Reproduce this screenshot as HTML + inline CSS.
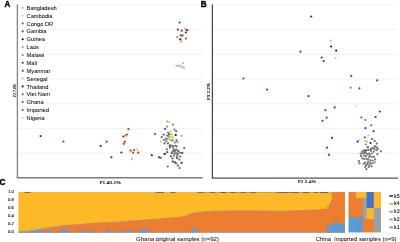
<!DOCTYPE html>
<html><head><meta charset="utf-8"><style>
html,body{margin:0;padding:0;background:#fff;overflow:hidden;width:400px;height:242px}
</style></head><body>
<svg width="400" height="242" viewBox="0 0 400 242" style="display:block;will-change:transform;filter:blur(0.3px)">
<rect width="400" height="242" fill="#fff"/>
<line x1="17.5" y1="4.9" x2="203" y2="4.9" stroke="#f5f5f5" stroke-width="1.4"/>
<line x1="212.2" y1="4.9" x2="398" y2="4.9" stroke="#f5f5f5" stroke-width="1.4"/>
<line x1="17.5" y1="29.6" x2="203" y2="29.6" stroke="#f5f5f5" stroke-width="1.4"/>
<line x1="212.2" y1="29.6" x2="398" y2="29.6" stroke="#f5f5f5" stroke-width="1.4"/>
<line x1="17.5" y1="54.3" x2="203" y2="54.3" stroke="#f5f5f5" stroke-width="1.4"/>
<line x1="212.2" y1="54.3" x2="398" y2="54.3" stroke="#f5f5f5" stroke-width="1.4"/>
<line x1="17.5" y1="79.1" x2="203" y2="79.1" stroke="#f5f5f5" stroke-width="1.4"/>
<line x1="212.2" y1="79.1" x2="398" y2="79.1" stroke="#f5f5f5" stroke-width="1.4"/>
<line x1="17.5" y1="103.8" x2="203" y2="103.8" stroke="#f5f5f5" stroke-width="1.4"/>
<line x1="212.2" y1="103.8" x2="398" y2="103.8" stroke="#f5f5f5" stroke-width="1.4"/>
<line x1="17.5" y1="128.5" x2="203" y2="128.5" stroke="#f5f5f5" stroke-width="1.4"/>
<line x1="212.2" y1="128.5" x2="398" y2="128.5" stroke="#f5f5f5" stroke-width="1.4"/>
<line x1="17.5" y1="153.2" x2="203" y2="153.2" stroke="#f5f5f5" stroke-width="1.4"/>
<line x1="212.2" y1="153.2" x2="398" y2="153.2" stroke="#f5f5f5" stroke-width="1.4"/>
<rect x="18.3" y="3.90" width="39.61" height="7.9" fill="#fff"/>
<rect x="18.3" y="11.76" width="35.48" height="7.9" fill="#fff"/>
<rect x="18.3" y="19.62" width="36.11" height="7.9" fill="#fff"/>
<rect x="18.3" y="27.48" width="29.46" height="7.9" fill="#fff"/>
<rect x="18.3" y="35.34" width="27.88" height="7.9" fill="#fff"/>
<rect x="18.3" y="43.20" width="21.86" height="7.9" fill="#fff"/>
<rect x="18.3" y="51.06" width="27.24" height="7.9" fill="#fff"/>
<rect x="18.3" y="58.92" width="19.95" height="7.9" fill="#fff"/>
<rect x="18.3" y="66.78" width="33.26" height="7.9" fill="#fff"/>
<rect x="18.3" y="74.64" width="30.42" height="7.9" fill="#fff"/>
<rect x="18.3" y="82.50" width="31.36" height="7.9" fill="#fff"/>
<rect x="18.3" y="90.36" width="32.84" height="7.9" fill="#fff"/>
<rect x="18.3" y="98.22" width="26.62" height="7.9" fill="#fff"/>
<rect x="18.3" y="106.08" width="32.00" height="7.9" fill="#fff"/>
<rect x="18.3" y="113.94" width="27.56" height="7.9" fill="#fff"/>
<line x1="17.4" y1="4.4" x2="17.4" y2="177.8" stroke="#8a8a8a" stroke-width="1.4"/>
<line x1="16.7" y1="177.8" x2="202.6" y2="177.8" stroke="#7a7a7a" stroke-width="1.5"/>
<line x1="212.4" y1="4.4" x2="212.4" y2="178.1" stroke="#4a4a4a" stroke-width="1.3"/>
<line x1="211.7" y1="178.1" x2="398" y2="178.1" stroke="#555" stroke-width="1.4"/>
<g font-family='"Liberation Sans", sans-serif' font-weight="bold" fill="#000" stroke="#000" stroke-width="0.35">
<text transform="translate(4.6,6.9) scale(0.88,1)" font-size="9.2">A</text>
<text transform="translate(200.7,6.9) scale(0.88,1)" font-size="9.2">B</text>
<text transform="translate(-0.5,185.2)" font-size="8.3">C</text>
</g>
<g font-family='"Liberation Sans", sans-serif' font-size="5.7" fill="#111" stroke="#111" stroke-width="0.06">
<circle cx="22.7" cy="7.80" r="1.05" fill="#a8bccf" stroke="none"/>
<text x="26.6" y="9.90">Bangladesh</text>
<circle cx="22.7" cy="15.66" r="1.05" fill="#d8cfc4" stroke="none"/>
<text x="26.6" y="17.76">Cambodia</text>
<circle cx="22.7" cy="23.52" r="1.05" fill="#4d6070" stroke="none"/>
<text x="26.6" y="25.62">Congo DR</text>
<circle cx="22.7" cy="31.38" r="1.05" fill="#6a5548" stroke="none"/>
<text x="26.6" y="33.48">Gambia</text>
<circle cx="22.7" cy="39.24" r="1.05" fill="#111111" stroke="none"/>
<text x="26.6" y="41.34">Guinea</text>
<circle cx="22.7" cy="47.10" r="1.05" fill="#a89f92" stroke="none"/>
<text x="26.6" y="49.20">Laos</text>
<circle cx="22.7" cy="54.96" r="1.05" fill="#8c8270" stroke="none"/>
<text x="26.6" y="57.06">Malawi</text>
<circle cx="22.7" cy="62.82" r="1.05" fill="#3a3530" stroke="none"/>
<text x="26.6" y="64.92">Mali</text>
<circle cx="22.7" cy="70.68" r="1.05" fill="#4a4040" stroke="none"/>
<text x="26.6" y="72.78">Myanmar</text>
<circle cx="22.7" cy="78.54" r="1.05" fill="#d4b4b4" stroke="none"/>
<text x="26.6" y="80.64">Senegal</text>
<circle cx="22.7" cy="86.40" r="1.05" fill="#2a2a30" stroke="none"/>
<text x="26.6" y="88.50">Thailand</text>
<circle cx="22.7" cy="94.26" r="1.05" fill="#66664e" stroke="none"/>
<text x="26.6" y="96.36">Viet Nam</text>
<circle cx="22.7" cy="102.12" r="1.05" fill="#4e6262" stroke="none"/>
<text x="26.6" y="104.22">Ghana</text>
<circle cx="22.7" cy="109.98" r="1.05" fill="#a83a3a" stroke="none"/>
<text x="26.6" y="112.08">Imported</text>
<circle cx="22.7" cy="117.84" r="1.05" fill="#d4dc98" stroke="none"/>
<text x="26.6" y="119.94">Nigeria</text>
</g>
<g font-family='"Liberation Serif", serif' font-size="4.9" fill="#111" stroke="#111" stroke-width="0.15">
<text x="99.4" y="183.8" textLength="21.4" lengthAdjust="spacingAndGlyphs">F1 40.1%</text>
<text x="297.8" y="183.4" textLength="18.2" lengthAdjust="spacingAndGlyphs">F2 2.4%</text>
<text transform="translate(15.6,97) rotate(-90)" textLength="13" lengthAdjust="spacingAndGlyphs">F2 7.0%</text>
<text transform="translate(209.5,100) rotate(-90)" textLength="17" lengthAdjust="spacingAndGlyphs">F3 2.2%</text>
</g>
<circle cx="40.6" cy="136.1" r="1.12" fill="#3a3a4a"/>
<circle cx="63.4" cy="141.5" r="1.12" fill="#c83218"/>
<circle cx="100.6" cy="145.9" r="1.12" fill="#3a3a4a"/>
<circle cx="106.6" cy="141.7" r="1.12" fill="#c83218"/>
<circle cx="128.4" cy="129.1" r="1.12" fill="#c83218"/>
<circle cx="126.9" cy="134.5" r="1.12" fill="#c83218"/>
<circle cx="125.3" cy="135.7" r="1.12" fill="#e07030"/>
<circle cx="123.2" cy="136.6" r="1.12" fill="#c83218"/>
<circle cx="124.8" cy="141.7" r="1.12" fill="#c83218"/>
<circle cx="123.8" cy="143.8" r="1.12" fill="#c83218"/>
<circle cx="121.3" cy="152.5" r="1.12" fill="#3a3a4a"/>
<circle cx="130.6" cy="150.6" r="1.12" fill="#c83218"/>
<circle cx="134.2" cy="150.0" r="1.12" fill="#c83218"/>
<circle cx="137.3" cy="149.4" r="1.12" fill="#e8c0a0"/>
<circle cx="133.1" cy="152.7" r="1.12" fill="#c83218"/>
<circle cx="138.3" cy="152.7" r="1.12" fill="#c83218"/>
<circle cx="132.1" cy="158.9" r="1.12" fill="#f0a0a0"/>
<circle cx="111.4" cy="157.3" r="1.12" fill="#3a3a4a"/>
<circle cx="151.8" cy="155.2" r="1.12" fill="#3a3a4a"/>
<circle cx="154.9" cy="134.1" r="1.12" fill="#6080a0"/>
<circle cx="159.0" cy="157.3" r="1.12" fill="#3a3a4a"/>
<circle cx="179.6" cy="22.6" r="1.12" fill="#5a4a28"/>
<circle cx="177.8" cy="29.6" r="1.12" fill="#6a3c20"/>
<circle cx="181.7" cy="30.7" r="1.12" fill="#7a4424"/>
<circle cx="185.4" cy="29.0" r="1.12" fill="#c89070"/>
<circle cx="187.1" cy="30.2" r="1.12" fill="#4a2a20"/>
<circle cx="185.9" cy="32.5" r="1.12" fill="#6a2a20"/>
<circle cx="180.7" cy="35.4" r="1.12" fill="#7a4a30"/>
<circle cx="182.5" cy="35.4" r="1.12" fill="#8a5030"/>
<circle cx="177.3" cy="37.1" r="1.12" fill="#b08060"/>
<circle cx="180.2" cy="39.4" r="1.12" fill="#3a2218"/>
<circle cx="185.9" cy="38.6" r="1.12" fill="#a07050"/>
<circle cx="181.3" cy="41.7" r="1.12" fill="#c8a090"/>
<circle cx="183.0" cy="63.3" r="1.12" fill="#b4b4b4"/>
<path d="M176.6,65.8 Q178.5,65.2 180.5,66.3 T184,67.6" stroke="#c4c4c4" stroke-width="2.4" fill="none" stroke-linecap="round"/>
<circle cx="167.3" cy="121.3" r="1.12" fill="#e0a850"/>
<circle cx="169.2" cy="122.0" r="1.12" fill="#e8c068"/>
<circle cx="172.8" cy="124.5" r="1.12" fill="#8a7a70"/>
<circle cx="167.1" cy="126.6" r="1.12" fill="#6aa0c8"/>
<circle cx="165.0" cy="128.8" r="1.12" fill="#4a5068"/>
<circle cx="174.5" cy="129.7" r="1.12" fill="#5a8890"/>
<circle cx="176.2" cy="131.3" r="1.12" fill="#676767"/>
<circle cx="170.7" cy="131.7" r="1.12" fill="#c8d068"/>
<circle cx="155.4" cy="133.9" r="1.12" fill="#6a7a90"/>
<circle cx="163.7" cy="134.6" r="1.12" fill="#676767"/>
<circle cx="169.1" cy="134.2" r="1.12" fill="#2a2a50"/>
<circle cx="171.6" cy="134.6" r="1.12" fill="#c8d068"/>
<circle cx="175.7" cy="135.0" r="1.12" fill="#111"/>
<circle cx="181.6" cy="135.8" r="1.12" fill="#c0a080"/>
<circle cx="161.7" cy="137.1" r="1.12" fill="#676767"/>
<circle cx="168.3" cy="136.3" r="1.12" fill="#7c7c98"/>
<circle cx="167.0" cy="135.5" r="1.12" fill="#7c7c98"/>
<circle cx="170.3" cy="137.5" r="1.12" fill="#c8d068"/>
<circle cx="173.2" cy="137.1" r="1.12" fill="#e0d050"/>
<circle cx="165.8" cy="138.7" r="1.12" fill="#7c7c98"/>
<circle cx="169.9" cy="139.6" r="1.12" fill="#c8d068"/>
<circle cx="171.0" cy="140.5" r="1.12" fill="#c8d068"/>
<circle cx="160.8" cy="141.6" r="1.12" fill="#e0d050"/>
<circle cx="166.2" cy="141.2" r="1.12" fill="#7c7c98"/>
<circle cx="172.4" cy="140.4" r="1.12" fill="#676767"/>
<circle cx="176.5" cy="140.4" r="1.12" fill="#676767"/>
<circle cx="174.9" cy="142.5" r="1.12" fill="#5a8890"/>
<circle cx="177.4" cy="142.0" r="1.12" fill="#5a9ad0"/>
<circle cx="164.5" cy="143.3" r="1.12" fill="#676767"/>
<circle cx="167.9" cy="143.3" r="1.12" fill="#676767"/>
<circle cx="170.3" cy="145.4" r="1.12" fill="#555"/>
<circle cx="172.4" cy="145.8" r="1.12" fill="#676767"/>
<circle cx="175.3" cy="145.8" r="1.12" fill="#676767"/>
<circle cx="169.9" cy="147.4" r="1.12" fill="#676767"/>
<circle cx="167.5" cy="139.0" r="1.12" fill="#7c7c98"/>
<circle cx="164.0" cy="140.0" r="1.12" fill="#7c7c98"/>
<circle cx="168.0" cy="132.5" r="1.12" fill="#7c7c98"/>
<circle cx="171.0" cy="136.2" r="1.12" fill="#c8d068"/>
<circle cx="169.2" cy="138.2" r="1.12" fill="#c8d068"/>
<circle cx="172.6" cy="139.0" r="1.12" fill="#c8d068"/>
<circle cx="170.2" cy="133.4" r="1.12" fill="#c8d068"/>
<circle cx="169.8" cy="145.9" r="1.12" fill="#676767"/>
<circle cx="172.8" cy="146.7" r="1.12" fill="#676767"/>
<circle cx="176.6" cy="146.3" r="1.12" fill="#676767"/>
<circle cx="184.2" cy="148.0" r="1.12" fill="#676767"/>
<circle cx="166.8" cy="149.3" r="1.12" fill="#676767"/>
<circle cx="173.6" cy="148.8" r="1.12" fill="#676767"/>
<circle cx="176.2" cy="149.7" r="1.12" fill="#676767"/>
<circle cx="178.3" cy="151.0" r="1.12" fill="#676767"/>
<circle cx="178.1" cy="150.9" r="1.12" fill="#676767"/>
<circle cx="175.0" cy="150.9" r="1.12" fill="#676767"/>
<circle cx="173.1" cy="151.2" r="1.12" fill="#676767"/>
<circle cx="171.9" cy="153.1" r="1.12" fill="#676767"/>
<circle cx="179.9" cy="152.5" r="1.12" fill="#676767"/>
<circle cx="182.4" cy="152.8" r="1.12" fill="#676767"/>
<circle cx="164.7" cy="153.9" r="1.12" fill="#222"/>
<circle cx="167.2" cy="152.2" r="1.12" fill="#676767"/>
<circle cx="171.9" cy="152.7" r="1.12" fill="#676767"/>
<circle cx="174.6" cy="153.4" r="1.12" fill="#676767"/>
<circle cx="176.2" cy="153.4" r="1.12" fill="#676767"/>
<circle cx="177.9" cy="153.5" r="1.12" fill="#676767"/>
<circle cx="181.7" cy="153.1" r="1.12" fill="#676767"/>
<circle cx="160.9" cy="157.8" r="1.12" fill="#676767"/>
<circle cx="170.9" cy="156.2" r="1.12" fill="#676767"/>
<circle cx="174.0" cy="155.6" r="1.12" fill="#676767"/>
<circle cx="177.4" cy="155.3" r="1.12" fill="#676767"/>
<circle cx="180.2" cy="156.5" r="1.12" fill="#676767"/>
<circle cx="172.5" cy="158.4" r="1.12" fill="#676767"/>
<circle cx="176.8" cy="157.4" r="1.12" fill="#676767"/>
<circle cx="179.3" cy="159.6" r="1.12" fill="#676767"/>
<circle cx="172.8" cy="161.6" r="1.12" fill="#676767"/>
<circle cx="175.0" cy="162.4" r="1.12" fill="#676767"/>
<circle cx="176.2" cy="163.3" r="1.12" fill="#676767"/>
<circle cx="181.5" cy="162.7" r="1.12" fill="#676767"/>
<circle cx="172.8" cy="161.5" r="1.12" fill="#676767"/>
<circle cx="177.0" cy="158.2" r="1.12" fill="#676767"/>
<circle cx="167.7" cy="166.5" r="1.12" fill="#676767"/>
<circle cx="177.9" cy="165.7" r="1.12" fill="#676767"/>
<circle cx="179.6" cy="168.0" r="1.12" fill="#676767"/>
<circle cx="174.9" cy="162.3" r="1.12" fill="#676767"/>
<circle cx="181.7" cy="163.1" r="1.12" fill="#676767"/>
<circle cx="311.2" cy="16.5" r="1.12" fill="#4a3020"/>
<circle cx="330.7" cy="40.7" r="1.12" fill="#c8bcb0"/>
<circle cx="331.1" cy="46.5" r="1.12" fill="#2a2420"/>
<circle cx="336.2" cy="50.6" r="1.12" fill="#222"/>
<circle cx="321.7" cy="57.5" r="1.12" fill="#3a4050"/>
<circle cx="323.7" cy="61.2" r="1.12" fill="#4a5262"/>
<circle cx="335.5" cy="58.1" r="1.12" fill="#d8c8c4"/>
<circle cx="300.5" cy="51.7" r="1.12" fill="#4a5262"/>
<circle cx="243.5" cy="78.5" r="1.12" fill="#4a5466"/>
<circle cx="267.1" cy="89.6" r="1.12" fill="#9a3a18"/>
<circle cx="308.5" cy="96.2" r="1.12" fill="#7a4020"/>
<circle cx="351.2" cy="75.9" r="1.12" fill="#4a5262"/>
<circle cx="377.2" cy="80.4" r="1.12" fill="#4a5466"/>
<circle cx="350.6" cy="87.7" r="1.12" fill="#5a9ad0"/>
<circle cx="359.4" cy="88.3" r="1.12" fill="#4a5262"/>
<circle cx="325.4" cy="110.1" r="1.12" fill="#a03018"/>
<circle cx="334.7" cy="107.4" r="1.12" fill="#a03018"/>
<circle cx="326.6" cy="117.7" r="1.12" fill="#c02818"/>
<circle cx="322.5" cy="120.8" r="1.12" fill="#c02818"/>
<circle cx="332.0" cy="137.9" r="1.12" fill="#902020"/>
<circle cx="327.0" cy="147.7" r="1.12" fill="#c02020"/>
<circle cx="329.0" cy="154.8" r="1.12" fill="#c02020"/>
<circle cx="356.2" cy="106.2" r="1.12" fill="#e2e6b0"/>
<circle cx="379.8" cy="111.5" r="1.12" fill="#404040"/>
<circle cx="375.6" cy="117.0" r="1.12" fill="#404040"/>
<circle cx="361.4" cy="117.5" r="1.12" fill="#56688a"/>
<circle cx="365.4" cy="119.9" r="1.12" fill="#5a8ac0"/>
<circle cx="371.2" cy="125.3" r="1.12" fill="#707060"/>
<circle cx="365.5" cy="128.1" r="1.12" fill="#404040"/>
<circle cx="373.6" cy="131.2" r="1.12" fill="#404040"/>
<circle cx="368.4" cy="135.5" r="1.12" fill="#d0c0c0"/>
<circle cx="364.8" cy="137.4" r="1.12" fill="#676767"/>
<circle cx="357.6" cy="141.5" r="1.12" fill="#1a1a40"/>
<circle cx="359.1" cy="140.0" r="1.12" fill="#d0d0e0"/>
<circle cx="364.8" cy="141.0" r="1.12" fill="#e8d060"/>
<circle cx="366.9" cy="141.5" r="1.12" fill="#d0b050"/>
<circle cx="370.5" cy="143.1" r="1.12" fill="#1a2a60"/>
<circle cx="372.0" cy="139.0" r="1.12" fill="#676767"/>
<circle cx="374.6" cy="141.0" r="1.12" fill="#676767"/>
<circle cx="376.7" cy="143.6" r="1.12" fill="#676767"/>
<circle cx="365.8" cy="144.6" r="1.12" fill="#7090a0"/>
<circle cx="367.9" cy="147.2" r="1.12" fill="#676767"/>
<circle cx="371.0" cy="148.8" r="1.12" fill="#676767"/>
<circle cx="375.1" cy="146.7" r="1.12" fill="#676767"/>
<circle cx="367.6" cy="147.2" r="1.12" fill="#727272"/>
<circle cx="374.5" cy="146.6" r="1.12" fill="#727272"/>
<circle cx="371.0" cy="149.0" r="1.12" fill="#727272"/>
<circle cx="376.3" cy="150.1" r="1.12" fill="#727272"/>
<circle cx="380.9" cy="151.3" r="1.12" fill="#727272"/>
<circle cx="360.6" cy="153.6" r="1.12" fill="#727272"/>
<circle cx="377.4" cy="154.2" r="1.12" fill="#727272"/>
<circle cx="358.9" cy="161.1" r="1.12" fill="#727272"/>
<circle cx="374.5" cy="162.3" r="1.12" fill="#727272"/>
<circle cx="359.5" cy="163.4" r="1.12" fill="#727272"/>
<circle cx="366.4" cy="169.2" r="1.12" fill="#727272"/>
<circle cx="368.7" cy="166.9" r="1.12" fill="#727272"/>
<circle cx="371.6" cy="166.3" r="1.12" fill="#727272"/>
<circle cx="365.3" cy="166.9" r="1.12" fill="#727272"/>
<circle cx="366.6" cy="158.8" r="1.12" fill="#727272"/>
<circle cx="368.2" cy="159.6" r="1.12" fill="#727272"/>
<circle cx="372.6" cy="160.5" r="1.12" fill="#727272"/>
<circle cx="368.0" cy="161.9" r="1.12" fill="#727272"/>
<circle cx="366.7" cy="150.3" r="1.12" fill="#727272"/>
<circle cx="376.9" cy="147.3" r="1.12" fill="#727272"/>
<circle cx="369.8" cy="155.4" r="1.12" fill="#727272"/>
<circle cx="364.2" cy="155.6" r="1.12" fill="#727272"/>
<circle cx="370.9" cy="150.8" r="1.12" fill="#727272"/>
<circle cx="367.5" cy="163.9" r="1.12" fill="#727272"/>
<circle cx="371.7" cy="153.5" r="1.12" fill="#727272"/>
<circle cx="370.5" cy="160.3" r="1.12" fill="#727272"/>
<circle cx="375.1" cy="159.4" r="1.12" fill="#727272"/>
<circle cx="374.0" cy="156.9" r="1.12" fill="#727272"/>
<circle cx="371.8" cy="156.8" r="1.12" fill="#727272"/>
<circle cx="377.9" cy="149.1" r="1.12" fill="#727272"/>
<circle cx="364.3" cy="159.1" r="1.12" fill="#727272"/>
<circle cx="372.5" cy="148.1" r="1.12" fill="#727272"/>
<circle cx="372.2" cy="163.5" r="1.12" fill="#727272"/>
<circle cx="369.5" cy="165.0" r="1.12" fill="#727272"/>
<circle cx="362.4" cy="153.4" r="1.12" fill="#727272"/>
<circle cx="369.1" cy="157.1" r="1.12" fill="#727272"/>
<circle cx="361.1" cy="156.2" r="1.12" fill="#727272"/>
<circle cx="373.6" cy="151.7" r="1.12" fill="#727272"/>
<circle cx="365.1" cy="162.6" r="1.12" fill="#727272"/>
<circle cx="369.0" cy="153.7" r="1.12" fill="#727272"/>
<circle cx="364.0" cy="150.6" r="1.12" fill="#727272"/>
<circle cx="365.9" cy="156.3" r="1.12" fill="#727272"/>
<circle cx="365.8" cy="153.1" r="1.12" fill="#727272"/>
<circle cx="363.7" cy="163.8" r="1.12" fill="#727272"/>
<circle cx="364.0" cy="152.9" r="1.12" fill="#727272"/>
<circle cx="362.4" cy="158.4" r="1.12" fill="#727272"/>
<circle cx="362.3" cy="151.3" r="1.12" fill="#727272"/>
<circle cx="374.3" cy="149.1" r="1.12" fill="#727272"/>
<circle cx="370.3" cy="162.9" r="1.12" fill="#727272"/>
<circle cx="368.6" cy="149.9" r="1.12" fill="#727272"/>
<circle cx="367.1" cy="154.3" r="1.12" fill="#727272"/>
<circle cx="366.2" cy="165.2" r="1.12" fill="#727272"/>
<circle cx="365.3" cy="150.7" r="1.12" fill="#444"/>
<rect x="18.4" y="192.0" width="326.6" height="40.400000000000006" fill="#fdb927"/>
<polygon points="18.4,231.9 24,231.4 28,231.0 33,230.3 38,229.4 43,228.6 48,227.5 56,226.4 61,225.6 66,225.0 76,224.4 86,223.6 94,222.7 114,222.1 132,220.6 152,218.9 172,217.4 180,216.8 186,215.4 192,212.9 208,211.0 228,210.4 248,210.6 284,210.8 300,210.3 318,209.6 320.5,209.6 320.5,208.8 327,208.8 327,206.8 329,206.8 329,202.9 330.9,202.9 330.9,200 331.8,200 331.8,192.0 345.0,192.0 345.0,232.4 18.4,232.4" fill="#ed7d31"/>
<polygon points="18.4,231.9 24,231.4 28,231.0 33,230.3 38,229.4 43,228.6 48,227.5 56,226.4 61,225.6 66,225.0 76,224.4 86,223.6 94,222.7 114,222.1 132,220.6 152,218.9 172,217.4 180,216.8 186,215.4 192,212.9 208,211.0 228,210.4 248,210.6 284,210.8 300,210.3 318,209.6 318,210.6 300,211.3 284,211.8 248,211.6 228,211.4 208,212.0 192,213.9 186,216.4 180,217.8 172,218.4 152,219.9 132,221.6 114,223.1 94,223.7 86,224.6 76,225.4 66,226.0 61,226.6 56,227.4 48,228.5 43,229.6 38,230.4 33,231.3 28,232.0 24,232.4 18.4,232.9" fill="#9aa0a5" opacity="0.45"/>
<polygon points="18.4,231.9 24,231.4 28,231.0 33,230.3 38,229.4 43,228.6 43,232.4 18.4,232.4" fill="#8ea3b5"/>
<rect x="33" y="230.3" width="4.5" height="2.0999999999999943" fill="#6b9acb"/>
<rect x="39.8" y="229.5" width="3.0" height="2.9000000000000057" fill="#6b9acb"/>
<rect x="48" y="230" width="4" height="2.4000000000000057" fill="#6b9acb"/>
<rect x="60" y="229.2" width="4" height="3.200000000000017" fill="#6b9acb"/>
<rect x="64" y="228.8" width="4" height="3.5999999999999943" fill="#6b9acb"/>
<rect x="80" y="230.2" width="4" height="2.200000000000017" fill="#6b9acb"/>
<rect x="86" y="230.4" width="6" height="2.0" fill="#6b9acb"/>
<rect x="107" y="229.3" width="4" height="3.0999999999999943" fill="#6b9acb"/>
<rect x="118" y="230.6" width="6" height="1.8000000000000114" fill="#6b9acb"/>
<rect x="127" y="229.8" width="4" height="2.5999999999999943" fill="#6b9acb"/>
<rect x="132" y="230.4" width="2" height="2.0" fill="#6b9acb"/>
<rect x="139.8" y="229.0" width="8.399999999999977" height="3.4000000000000057" fill="#6b9acb"/>
<rect x="191.8" y="227.5" width="4.199999999999989" height="4.900000000000006" fill="#6b9acb"/>
<rect x="327" y="225" width="6" height="7.400000000000006" fill="#5b9bd5"/>
<rect x="333" y="222.5" width="7" height="9.900000000000006" fill="#5b9bd5"/>
<rect x="340" y="224" width="5.0" height="8.400000000000006" fill="#5b9bd5"/>
<rect x="24.3" y="192.0" width="6.199999999999999" height="0.8" fill="#5a4520" opacity="0.8"/>
<rect x="155.5" y="192.0" width="8.5" height="0.8" fill="#3a4060" opacity="0.8"/>
<rect x="170.5" y="192.0" width="5.0" height="0.8" fill="#304080" opacity="0.8"/>
<rect x="198" y="192.0" width="6" height="0.8" fill="#6a6050" opacity="0.8"/>
<rect x="220.5" y="192.0" width="4.5" height="0.8" fill="#404050" opacity="0.8"/>
<rect x="230.5" y="192.0" width="5.0" height="0.8" fill="#505050" opacity="0.8"/>
<rect x="240.5" y="192.0" width="5.0" height="0.8" fill="#505050" opacity="0.8"/>
<rect x="276.8" y="192.0" width="12.199999999999989" height="0.8" fill="#3a5090" opacity="0.8"/>
<rect x="290.5" y="192.0" width="8.5" height="0.8" fill="#3a5090" opacity="0.8"/>
<rect x="303" y="192.0" width="6" height="0.8" fill="#404060" opacity="0.8"/>
<rect x="314" y="192.0" width="4" height="0.8" fill="#505060" opacity="0.8"/>
<rect x="320" y="192.0" width="7.899999999999977" height="0.8" fill="#34457a" opacity="0.8"/>
<rect x="18.4" y="231.6" width="326.6" height="0.9" fill="#7d8fa6"/>
<rect x="196" y="192.0" width="134" height="0.7" fill="#4a4a5a" opacity="0.35"/>
<rect x="210.5" y="192.0" width="4.5" height="0.8" fill="#4a4a5a" opacity="0.7"/>
<rect x="222" y="192.0" width="4" height="0.8" fill="#4a4a5a" opacity="0.7"/>
<rect x="250" y="192.0" width="6" height="0.8" fill="#4a4a5a" opacity="0.7"/>
<rect x="348.50" y="192" width="4.31" height="25.70" fill="#ed7d31"/>
<rect x="348.50" y="217" width="4.31" height="15.40" fill="#5b9bd5"/>
<rect x="352.11" y="192" width="4.31" height="25.70" fill="#ed7d31"/>
<rect x="352.11" y="217" width="4.31" height="15.40" fill="#5b9bd5"/>
<rect x="355.72" y="192" width="4.31" height="6.70" fill="#fdb927"/>
<rect x="355.72" y="198" width="4.31" height="21.70" fill="#ed7d31"/>
<rect x="355.72" y="219" width="4.31" height="13.40" fill="#5b9bd5"/>
<rect x="359.33" y="192" width="4.31" height="6.70" fill="#fdb927"/>
<rect x="359.33" y="198" width="4.31" height="18.70" fill="#ed7d31"/>
<rect x="359.33" y="216" width="4.31" height="16.40" fill="#5b9bd5"/>
<rect x="362.94" y="192" width="4.31" height="6.70" fill="#fdb927"/>
<rect x="362.94" y="198" width="4.31" height="20.70" fill="#9aa0a5"/>
<rect x="362.94" y="218" width="4.31" height="14.40" fill="#ed7d31"/>
<rect x="366.56" y="192" width="4.31" height="16.70" fill="#4472c4"/>
<rect x="366.56" y="208" width="4.31" height="11.70" fill="#fdb927"/>
<rect x="366.56" y="219" width="4.31" height="13.40" fill="#ed7d31"/>
<rect x="370.17" y="192" width="4.31" height="16.70" fill="#4472c4"/>
<rect x="370.17" y="208" width="4.31" height="11.70" fill="#fdb927"/>
<rect x="370.17" y="219" width="4.31" height="13.40" fill="#ed7d31"/>
<rect x="373.78" y="192" width="4.31" height="16.70" fill="#fdb927"/>
<rect x="373.78" y="208" width="4.31" height="24.40" fill="#9aa0a5"/>
<rect x="377.39" y="192" width="3.61" height="16.70" fill="#fdb927"/>
<rect x="377.39" y="208" width="3.61" height="24.40" fill="#9aa0a5"/>
<g font-family='"Liberation Sans", sans-serif' font-size="4.2" fill="#222" stroke="#222" stroke-width="0.15" text-anchor="end">
<text x="13.9" y="193.20">1.0</text>
<text x="13.9" y="201.25">0.8</text>
<text x="13.9" y="209.30">0.6</text>
<text x="13.9" y="217.35">0.4</text>
<text x="13.9" y="225.40">0.2</text>
<text x="13.9" y="233.45">0.0</text>
</g>
<g font-family='"Liberation Sans", sans-serif' font-size="4.6" fill="#222" stroke="#222" stroke-width="0.12">
<rect x="389.4" y="195.00" width="3.5" height="1.8" fill="#343f78" stroke="none"/>
<text x="394.1" y="197.50" textLength="5.4" lengthAdjust="spacingAndGlyphs">k5</text>
<rect x="389.4" y="202.88" width="3.5" height="1.8" fill="#c8b060" stroke="none"/>
<text x="394.1" y="205.38" textLength="5.4" lengthAdjust="spacingAndGlyphs">k4</text>
<rect x="389.4" y="210.76" width="3.5" height="1.8" fill="#9a9aa0" stroke="none"/>
<text x="394.1" y="213.26" textLength="5.4" lengthAdjust="spacingAndGlyphs">k3</text>
<rect x="389.4" y="218.64" width="3.5" height="1.8" fill="#d09080" stroke="none"/>
<text x="394.1" y="221.14" textLength="5.4" lengthAdjust="spacingAndGlyphs">k2</text>
<rect x="389.4" y="226.52" width="3.5" height="1.8" fill="#7a90b0" stroke="none"/>
<text x="394.1" y="229.02" textLength="5.4" lengthAdjust="spacingAndGlyphs">k1</text>
</g>
<g font-family='"Liberation Sans", sans-serif' font-size="5.4" fill="#1a1a1a" stroke="#1a1a1a" stroke-width="0.06">
<text x="136" y="240.6" textLength="83" lengthAdjust="spacingAndGlyphs">Ghana original samples (n=92)</text>
<text x="315.7" y="240.7" textLength="80.7" lengthAdjust="spacingAndGlyphs">China&#160; imported samples (n=9)</text>
</g>
</svg>
</body></html>
